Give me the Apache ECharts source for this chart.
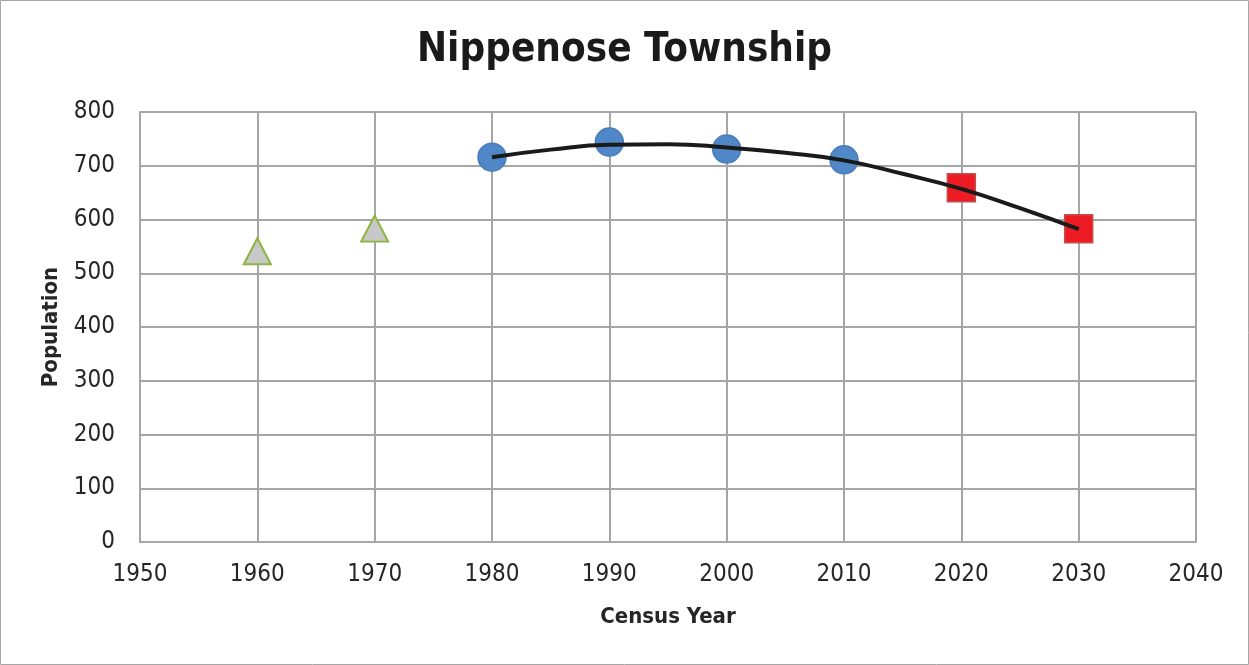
<!DOCTYPE html>
<html>
<head>
<meta charset="utf-8">
<script src="https://cdn.jsdelivr.net/npm/echarts@6/dist/echarts.min.js"></script>
<style>
  html, body { margin: 0; padding: 0; background: #fff; }
  #main { width: 1249px; height: 665px; }
</style>
</head>
<body>
<div id="main"></div>
<script>
// census data
const earlyYears = [1960, 1970]
const earlyPop = [541, 583]
const censusYears = [1980, 1990, 2000, 2010]
const censusPop = [716, 744, 731, 711]
const projYears = [2020, 2030]
const projPop = [659, 583]
// trend line, points
const trendYears = [1980, 1985, 1990, 1995, 2000, 2005, 2010, 2015, 2020, 2025, 2030]
const trendPop = [716, 730, 739, 740, 734, 724, 710, 685, 657, 621, 582]

const pairs = (xs, ys) => xs.map((x, i) => [x, ys[i]])
const font = '"Liberation Sans Narrow", "DejaVu Sans Condensed", "Liberation Sans", sans-serif'

let chart = echarts.init(document.getElementById("main"))
chart.setOption({
  animation: false,
  title: {
    text: "Nippenose Township",
    left: "center",
    top: 26,
    textStyle: { fontFamily: font, fontSize: 40, fontWeight: "bold", color: "#1a1a1a" }
  },
  graphic: [{
    type: "rect",
    shape: { x: 0.5, y: 0.5, width: 1248, height: 664 },
    style: { fill: "none", stroke: "#a6a6a6", lineWidth: 1 }
  }],
  grid: { left: 140, right: 53, top: 112, bottom: 123 },
  xAxis: {
    type: "value",
    min: 1950,
    max: 2040,
    interval: 10,
    name: "Census Year",
    nameLocation: "middle",
    nameGap: 64,
    nameTextStyle: { fontFamily: font, fontSize: 22, fontWeight: "bold", color: "#262626" },
    axisLine: { lineStyle: { color: "#a6a6a6", width: 2 } },
    axisTick: { show: false },
    axisLabel: { formatter: v => String(v), margin: 21, fontFamily: font, fontSize: 24, color: "#262626" },
    splitLine: { show: true, lineStyle: { color: "#a6a6a6", width: 2 } }
  },
  yAxis: {
    type: "value",
    min: 0,
    max: 800,
    interval: 100,
    name: "Population",
    nameLocation: "middle",
    nameGap: 78,
    nameTextStyle: { fontFamily: font, fontSize: 22, fontWeight: "bold", color: "#262626" },
    axisLine: { show: true, lineStyle: { color: "#a6a6a6", width: 2 } },
    axisTick: { show: false },
    axisLabel: { margin: 25, fontFamily: font, fontSize: 24, color: "#262626" },
    splitLine: { show: true, lineStyle: { color: "#a6a6a6", width: 2 } }
  },
  series: [
    {
      name: "Trend",
      type: "line",
      smooth: true,
      symbol: "none",
      data: pairs(trendYears, trendPop),
      lineStyle: { color: "#1a1a1a", width: 4 },
      z: 3
    },
    {
      name: "Early",
      type: "scatter",
      symbol: "triangle",
      symbolSize: [27, 26],
      data: pairs(earlyYears, earlyPop),
      itemStyle: { color: "#c8c8c8", borderColor: "#8db43e", borderWidth: 2, opacity: 1 },
      z: 2
    },
    {
      name: "Census",
      type: "scatter",
      symbol: "circle",
      symbolSize: 28,
      data: pairs(censusYears, censusPop),
      itemStyle: { color: "#5087c7", borderColor: "#4a7dbb", borderWidth: 1.5, opacity: 1 },
      z: 2
    },
    {
      name: "Projection",
      type: "scatter",
      symbol: "rect",
      symbolSize: 28,
      data: pairs(projYears, projPop),
      itemStyle: { color: "#ed1c24", borderColor: "#c0504d", borderWidth: 1.5, opacity: 1 },
      z: 2
    }
  ]
})
</script>
</body>
</html>
